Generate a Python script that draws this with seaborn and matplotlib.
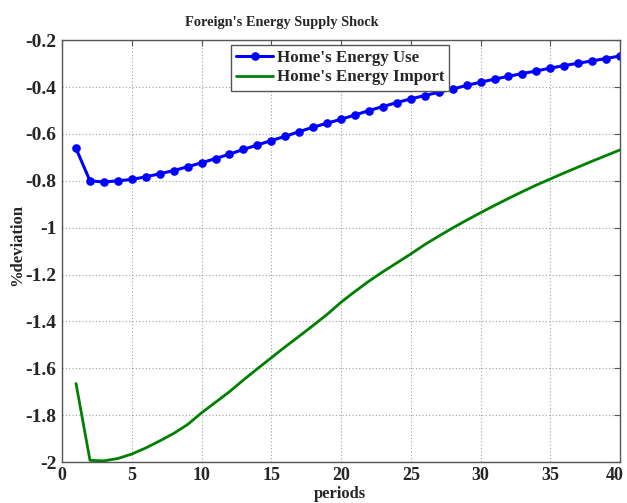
import matplotlib
matplotlib.use("Agg")
import matplotlib.pyplot as plt
import matplotlib.transforms as mtransforms
import seaborn as sns
import numpy as np
import pandas as pd

# --- Data ---
periods = list(range(1, 41))
energy_use = [-0.662, -0.800, -0.805, -0.800, -0.794, -0.783, -0.770, -0.756, -0.740, -0.723,
              -0.705, -0.686, -0.666, -0.647, -0.628, -0.610, -0.590, -0.571, -0.554, -0.537,
              -0.519, -0.500, -0.483, -0.466, -0.450, -0.436, -0.422, -0.408, -0.393, -0.379,
              -0.366, -0.354, -0.342, -0.331, -0.319, -0.308, -0.298, -0.288, -0.278, -0.267]
energy_import = [-1.665, -1.993, -1.995, -1.985, -1.966, -1.940, -1.910, -1.878, -1.840, -1.790,
                 -1.745, -1.700, -1.650, -1.602, -1.555, -1.508, -1.463, -1.417, -1.370, -1.318,
                 -1.272, -1.228, -1.188, -1.150, -1.112, -1.072, -1.036, -1.001, -0.968, -0.936,
                 -0.905, -0.875, -0.846, -0.818, -0.792, -0.766, -0.741, -0.716, -0.692, -0.668]
series_names = ["Home's Energy Use", "Home's Energy Import"]
x_ticks = [0, 5, 10, 15, 20, 25, 30, 35, 40]
y_ticks = [-2, -1.8, -1.6, -1.4, -1.2, -1, -0.8, -0.6, -0.4, -0.2]
y_tick_labels = ["-2", "-1.8", "-1.6", "-1.4", "-1.2", "-1", "-0.8", "-0.6", "-0.4", "-0.2"]

df = pd.DataFrame({
    "period": periods * 2,
    "value": energy_use + energy_import,
    "series": [series_names[0]] * len(periods) + [series_names[1]] * len(periods),
})

sns.set_style("white")
plt.rcParams['font.family'] = ['Liberation Serif', 'DejaVu Serif']
plt.rcParams['font.weight'] = 'bold'

fig = plt.figure(figsize=(6.27, 5.03), dpi=100)
ax = fig.add_axes([0.099, 0.0815, 0.890, 0.8385])

sns.lineplot(data=df[df.series == series_names[0]], x="period", y="value", ax=ax,
             color=(0, 0, 1), linewidth=2.2, marker="o", markersize=5,
             markeredgecolor=(0, 0, 1), markeredgewidth=1.2, label=series_names[0])
sns.lineplot(data=df[df.series == series_names[1]], x="period", y="value", ax=ax,
             color=(0, 0.5, 0), linewidth=2.0, label=series_names[1])

ax.set_xlim(0, 40)
ax.set_ylim(-2, -0.2)
ax.set_xticks(x_ticks)
ax.set_yticks(y_ticks)
ax.set_yticklabels(y_tick_labels)
ax.tick_params(direction="in", top=True, right=True, length=4, color="#555555")
ax.tick_params(axis="x", pad=3.5, labelsize=13)
ax.tick_params(axis="y", pad=4, labelsize=14)
for lab in ax.get_xticklabels() + ax.get_yticklabels():
    lab.set_fontweight("bold")

# the last x label sits slightly inside the figure edge, as in the original
last = ax.get_xticklabels()[-1]
last.set_transform(last.get_transform() + mtransforms.ScaledTranslation(-5 / 100, 0, fig.dpi_scale_trans))

ax.grid(True, linestyle=(0, (1, 2)), color="#a0a0a0", linewidth=0.8)
for sp in ax.spines.values():
    sp.set_color("#555555")
    sp.set_linewidth(1.0)

ax.set_title("Foreign's Energy Supply Shock", fontsize=10.4, fontweight="bold", x=0.394, pad=10)
ax.set_xlabel("periods", fontsize=12, fontweight="bold")
ax.set_ylabel("%deviation", fontsize=12, fontweight="bold")
ax.xaxis.set_label_coords(0.498, -0.058)
ax.yaxis.set_label_coords(-0.066, 0.514)

leg = ax.legend(loc="upper center", bbox_to_anchor=(0.498, 0.988), borderaxespad=0,
                fancybox=False, edgecolor="#555555", framealpha=1, fontsize=12.2,
                handlelength=2.2, borderpad=0.3, labelspacing=0.18, handletextpad=0.2)
leg.get_frame().set_linewidth(1.0)
for t in leg.get_texts():
    t.set_fontweight("bold")

fig.savefig("out.png", dpi=100)
